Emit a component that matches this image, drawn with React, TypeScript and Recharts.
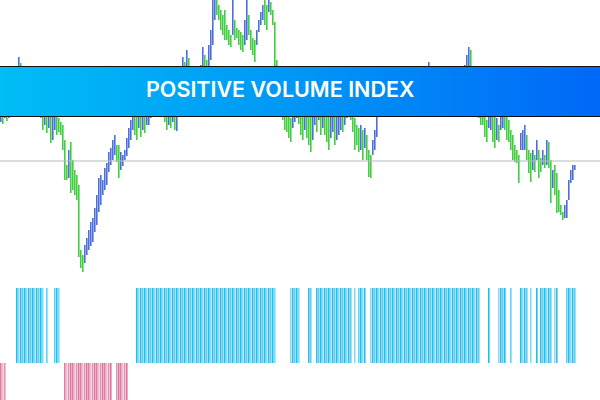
import { Bar, BarChart, Cell, ReferenceLine, XAxis, YAxis } from "recharts";

// price bars, high / low per bar (index units)
const barHigh = [
  295, 292, 300, 302, 305, 310, 315, 320, 330, 343,
  337, 330, 325, 320, 322, 315, 312, 308, 305, 302,
  300, 295, 292, 290, 288, 285, 300, 295, 290, 282,
  278, 275, 260, 235, 250, 258, 240, 230, 225, 215,
  150, 145, 155, 162, 170, 178, 182, 192, 205, 222,
  225, 220, 232, 237, 248, 252, 260, 265, 255, 255,
  248, 245, 250, 262, 272, 280, 285, 290, 292, 288,
  290, 292, 290, 295, 300, 302, 305, 302, 300, 304,
  300, 298, 295, 292, 294, 290, 296, 290, 292, 305,
  325, 343, 338, 350, 342, 330, 325, 320, 322, 328,
  335, 353, 345, 340, 355, 370, 405, 405, 400, 395,
  390, 385, 390, 375, 370, 365, 400, 380, 372, 370,
  368, 365, 380, 400, 385, 370, 362, 360, 370, 380,
  388, 395, 400, 395, 400, 398, 390, 378, 340, 320,
  310, 300, 295, 290, 288, 282, 288, 295, 300, 292,
  290, 288, 292, 290, 288, 285, 290, 295, 290, 300,
  292, 295, 290, 288, 285, 290, 292, 285, 288, 290,
  295, 292, 300, 305, 302, 300, 290, 282, 275, 272,
  275, 270, 272, 265, 250, 245, 260, 270, 295, 305,
  315, 320, 312, 315, 320, 322, 318, 314, 310, 312,
  316, 320, 315, 310, 308, 312, 315, 320, 322, 325,
  328, 325, 330, 332, 338, 332, 328, 322, 320, 315,
  318, 322, 325, 320, 315, 318, 322, 325, 322, 326,
  330, 332, 335, 345, 353, 350, 330, 320, 310, 300,
  295, 292, 290, 280, 285, 290, 288, 284, 282, 275,
  288, 292, 290, 285, 280, 270, 265, 255, 250, 245,
  267, 270, 275, 265, 250, 247, 250, 245, 260, 250,
  242, 250, 245, 260, 258, 240, 230, 235, 227, 210,
  195, 188, 195, 200, 220, 230, 235, 235,
];

const barLow = [
  278, 276, 282, 279, 282, 288, 295, 300, 305, 315,
  310, 305, 300, 296, 298, 292, 290, 288, 286, 285,
  282, 270, 275, 267, 272, 257, 260, 270, 265, 268,
  265, 250, 220, 220, 222, 207, 210, 205, 200, 143,
  132, 128, 137, 145, 150, 154, 158, 168, 175, 188,
  195, 205, 210, 215, 228, 235, 240, 245, 238, 222,
  230, 234, 240, 244, 252, 260, 270, 265, 260, 272,
  263, 270, 267, 275, 275, 282, 285, 286, 287, 288,
  285, 284, 278, 270, 275, 272, 278, 270, 269, 285,
  300, 315, 310, 325, 318, 305, 300, 298, 302, 305,
  310, 325, 320, 325, 330, 340, 355, 380, 385, 380,
  370, 365, 360, 360, 355, 353, 365, 360, 362, 355,
  350, 348, 355, 360, 365, 350, 345, 338, 355, 368,
  375, 380, 375, 370, 388, 385, 375, 330, 305, 295,
  290, 280, 270, 268, 262, 258, 272, 278, 282, 276,
  265, 260, 270, 262, 255, 248, 260, 275, 268, 280,
  265, 272, 265, 258, 250, 262, 268, 255, 260, 265,
  270, 268, 275, 282, 285, 280, 268, 250, 255, 248,
  250, 240, 252, 240, 223, 222, 245, 250, 263, 285,
  290, 295, 292, 294, 298, 300, 296, 292, 290, 294,
  296, 300, 295, 290, 288, 292, 297, 300, 302, 305,
  308, 305, 310, 312, 315, 310, 308, 304, 300, 295,
  298, 300, 302, 300, 296, 300, 302, 305, 304, 306,
  310, 312, 315, 320, 325, 322, 305, 300, 292, 282,
  275, 275, 263, 258, 272, 270, 258, 252, 260, 258,
  270, 272, 270, 260, 258, 250, 240, 238, 237, 217,
  250, 250, 250, 240, 227, 218, 230, 228, 240, 222,
  228, 235, 232, 235, 232, 197, 212, 205, 187, 188,
  185, 180, 182, 182, 200, 217, 220, 230,
];

// PVI signal: 1 = rising, -1 = falling, 0 = none
const pviSignal = [
  -1, -1, -1, 0, 0, 0, 0, 0, 1, 1,
  1, 1, 1, 1, 1, 1, 1, 1, 1, 1,
  1, 1, 0, 1, 0, 0, 0, 1, 1, 1,
  0, 0, -1, -1, -1, -1, -1, -1, -1, -1,
  -1, -1, -1, -1, -1, -1, -1, -1, -1, -1,
  -1, -1, -1, -1, -1, -1, 0, 0, -1, -1,
  -1, -1, -1, -1, 0, 0, 0, 0, 1, 1,
  1, 1, 1, 1, 1, 1, 1, 1, 1, 1,
  1, 1, 1, 1, 1, 1, 1, 1, 1, 1,
  1, 1, 1, 1, 1, 1, 1, 1, 1, 1,
  1, 1, 1, 1, 1, 1, 1, 1, 1, 1,
  1, 1, 1, 1, 1, 1, 1, 1, 1, 1,
  1, 1, 1, 1, 1, 1, 1, 1, 1, 1,
  1, 1, 1, 1, 1, 1, 1, 1, 0, 0,
  0, 0, 0, 0, 0, 1, 1, 1, 1, 1,
  0, 0, 0, 0, 1, 1, 0, 0, 1, 1,
  1, 1, 1, 1, 1, 1, 1, 1, 1, 1,
  1, 1, 1, 1, 1, 1, 0, 1, 0, 1,
  1, 1, 1, 0, 0, 1, 1, 1, 1, 1,
  1, 1, 1, 1, 1, 1, 1, 1, 1, 1,
  1, 1, 1, 1, 1, 1, 1, 1, 1, 1,
  1, 1, 1, 1, 1, 1, 1, 1, 1, 1,
  1, 1, 1, 1, 1, 1, 1, 1, 1, 1,
  1, 1, 1, 1, 1, 1, 1, 1, 1, 1,
  0, 0, 0, 0, 1, 0, 0, 0, 0, 1,
  1, 1, 1, 0, 0, 1, 0, 0, 0, 0,
  1, 1, 1, 1, 0, 1, 0, 0, 1, 0,
  1, 1, 1, 1, 1, 1, 0, 1, 1, 0,
  0, 0, 0, 1, 1, 1, 1, 1,
];

const baseLevel = 239;
const title = "POSITIVE VOLUME INDEX";

const bars = barHigh.map((high, i) => ({
  name: String(i + 1),
  range: [barLow[i], high],
  signal: pviSignal[i],
}));

const blueShades = ["#12c4f6", "#86dcf8", "#3ab9e2", "#5fd0f6"];
const pinkShades = ["#df7ba0", "#f3bbcf", "#e595b3", "#d9789c"];

function barColor(i: number) {
  if (i === 0) return "#4b6fde";
  const mid = barHigh[i] + barLow[i];
  const prev = barHigh[i - 1] + barLow[i - 1];
  return mid > prev ? "#4b6fde" : "#40cf3e";
}

export default function App() {
  return (
    <div
      style={{
        position: "fixed",
        top: 0,
        left: 0,
        width: 600,
        height: 400,
        overflow: "hidden",
        background: "#ffffff",
      }}
    >
      <BarChart width={600} height={400} data={bars} margin={{ top: 0, right: 0, bottom: 0, left: 0 }}>
        <XAxis dataKey="name" hide padding={{ left: 0, right: 24 }} />
        <YAxis hide domain={[0, 400]} allowDataOverflow />
        <ReferenceLine y={baseLevel} stroke="#b3bac2" strokeWidth={1} />
        <Bar dataKey="range" barSize={1.6} isAnimationActive={false}>
          {bars.map((_, i) => (
            <Cell key={i} fill={barColor(i)} />
          ))}
        </Bar>
      </BarChart>

      <div style={{ position: "absolute", top: 288, left: 0 }}>
        <BarChart width={600} height={150} data={bars} margin={{ top: 0, right: 0, bottom: 0, left: 0 }}>
          <XAxis dataKey="name" hide padding={{ left: 0, right: 24 }} />
          <YAxis hide domain={[-1, 1]} />
          <Bar dataKey="signal" barSize={1.6} isAnimationActive={false}>
            {bars.map((item, i) => (
              <Cell key={i} fill={item.signal > 0 ? blueShades[i % 4] : pinkShades[i % 4]} />
            ))}
          </Bar>
        </BarChart>
      </div>

      <div
        style={{
          position: "absolute",
          top: 66,
          left: 0,
          width: 600,
          height: 51,
          boxSizing: "border-box",
          borderTop: "1px solid #111",
          borderBottom: "1px solid #111",
          background: "linear-gradient(90deg, #00bdf6 0%, #0096f6 50%, #0068f7 100%)",
        }}
      >
        <span
          style={{
            position: "absolute",
            left: 146,
            top: 9,
            fontFamily: "Inter, 'Open Sans', sans-serif",
            fontWeight: 600,
            fontSize: 21.5,
            lineHeight: "26px",
            color: "#ffffff",
            whiteSpace: "nowrap",
          }}
        >
          {title}
        </span>
      </div>
    </div>
  );
}
